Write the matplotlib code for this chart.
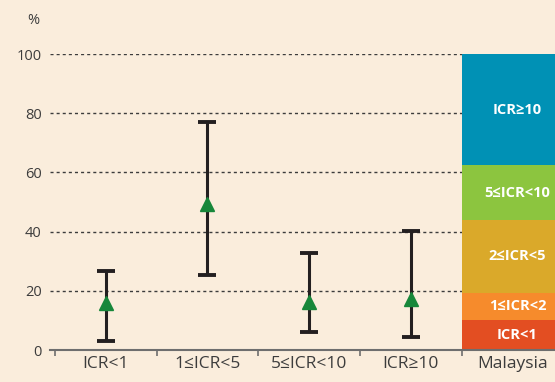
import numpy as np
from matplotlib import pyplot as plt

# Data
categories = ['ICR<1', '1≤ICR<5', '5≤ICR<10', 'ICR≥10', 'Malaysia']
means = [15.8, 49.3, 16.2, 17.3]
lower = [3.1, 25.4, 6.2, 4.4]
upper = [26.8, 77.1, 32.9, 40.3]

seg_labels = ['ICR<1', '1≤ICR<2', '2≤ICR<5', '5≤ICR<10', 'ICR≥10']
seg_values = [10.1, 9.3, 24.5, 18.6, 37.5]
seg_colors = ['#E34E22', '#F68B2C', '#DAA92A', '#8CC53F', '#0091B5']

bg = '#FAEDDC'
txt = '#3C3C3C'

plt.rcParams['font.family'] = ['Open Sans', 'DejaVu Sans']

fig = plt.figure(figsize=(5.55, 3.82), dpi=100, facecolor=bg)
ax = fig.add_axes([50 / 555, 1 - 350 / 382, 505 / 555, 296 / 382])
ax.set_facecolor(bg)

# Error bars with triangle means
x = np.arange(len(means))
m = np.array(means)
yerr = [m - np.array(lower), np.array(upper) - m]
ax.errorbar(x, m, yerr=yerr, fmt='none', ecolor='#231F20', elinewidth=2.2,
            capsize=6.5, capthick=2.8, zorder=3)
ax.plot(x, m, linestyle='none', marker='^', markersize=10.5,
        color='#17873A', zorder=4)

# Stacked bar for Malaysia
bottom = 0
for lab, val, col in zip(seg_labels, seg_values, seg_colors):
    ax.bar(4, val, bottom=bottom, width=1.0, color=col, zorder=2, linewidth=0)
    ax.text(4.05, bottom + val / 2, lab, ha='center', va='center',
            color='white', fontsize=10.5, fontweight='bold', zorder=5)
    bottom += val

# Axes styling
ax.set_xlim(-0.55, 4.42)
ax.set_ylim(0, 100)
ax.set_yticks([0, 20, 40, 60, 80, 100])
ax.set_yticklabels(['0', '20', '40', '60', '80', '100'], fontsize=10.5, color=txt)
for yv in [20, 40, 60, 80, 100]:
    ax.axhline(yv, color='#3C3C3C', linestyle=(0, (2.2, 2.2)), linewidth=1.0, zorder=1)

ax.set_xticks(np.arange(-0.5, 4, 1.0))
ax.set_xticklabels([])
ax.set_xticks(np.arange(len(categories)), minor=True)
ax.set_xticklabels(categories, minor=True, fontsize=12.5, color=txt)
ax.tick_params(axis='x', which='major', length=4, width=1.2, color='#6E6E6E', direction='out')
ax.tick_params(axis='x', which='minor', length=0, pad=4)
ax.tick_params(axis='y', length=0, pad=6)

for s in ['top', 'right', 'left']:
    ax.spines[s].set_visible(False)
ax.spines['bottom'].set_color('#6E6E6E')
ax.spines['bottom'].set_linewidth(1.5)
ax.spines['bottom'].set_zorder(6)

fig.text(33 / 555, 1 - 20 / 382, '%', ha='center', va='center', fontsize=10.5, color=txt)

plt.savefig('out.png', dpi=100, facecolor=bg)
